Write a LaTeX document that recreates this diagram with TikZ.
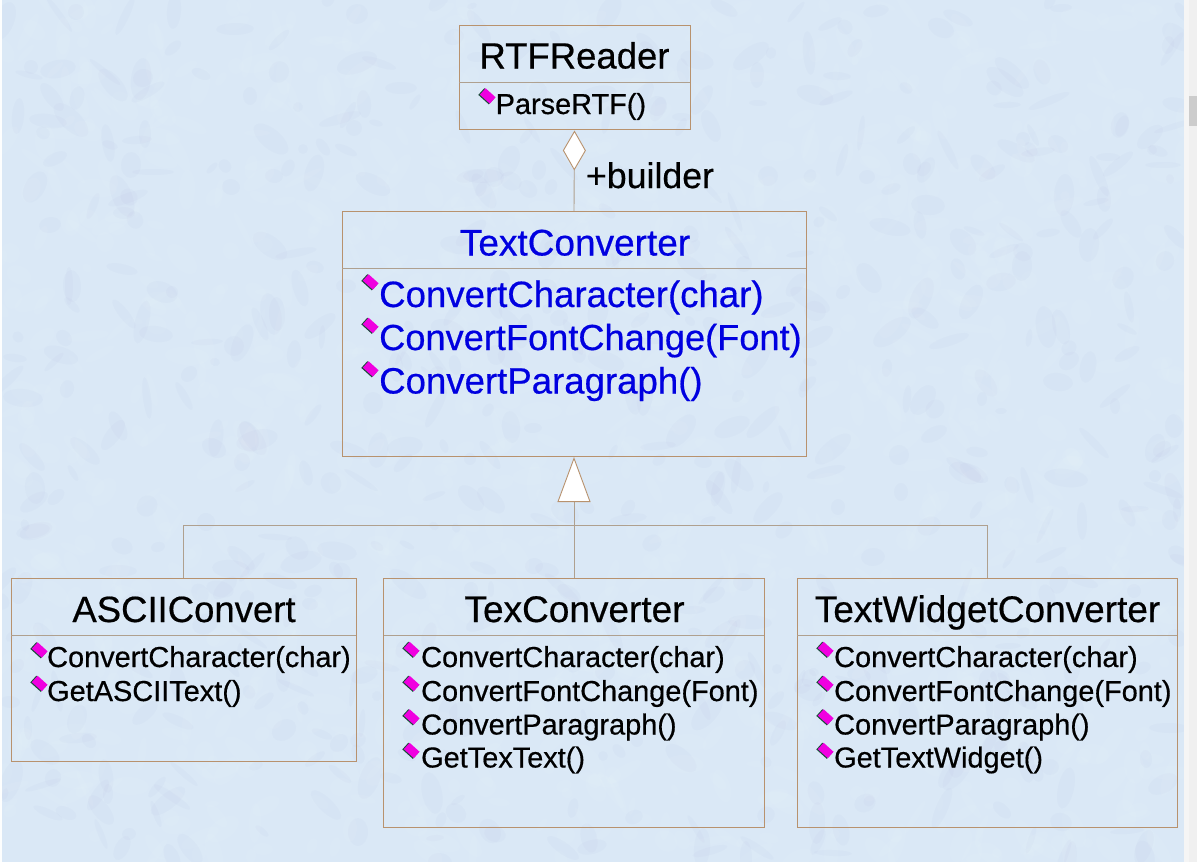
\documentclass[tikz,border=0pt]{standalone}
\usepackage{fontspec}
\setmainfont{Liberation Sans}[FakeBold=0.5]
\usetikzlibrary{arrows.meta,positioning}
\definecolor{bgblue}{HTML}{DAE8F6}
\definecolor{umlline}{HTML}{B8926E}
\definecolor{umlgrey}{HTML}{AFA08F}
\definecolor{blueText}{HTML}{0000E0}
\definecolor{iconpink}{HTML}{F000E0}
\definecolor{iconedge}{HTML}{1A4A3A}
\tikzset{
  umlbox/.style={draw=umlline,line width=1pt,inner sep=0pt,outer sep=0pt,rectangle},
  divider/.style={draw=umlgrey,line width=0.9pt},
  link/.style={draw=umlgrey,line width=0.9pt},
  titletext/.style={inner sep=0pt,anchor=base,font=\fontsize{36.5}{40}\selectfont},
  widetitle/.style={titletext,font=\fontsize{37}{40}\selectfont},
  bigmethod/.style={inner sep=0pt,anchor=base west,text=blueText,font=\fontsize{36.6}{40}\selectfont},
  smallmethod/.style={inner sep=0pt,anchor=base west,font=\fontsize{28.9}{32}\selectfont},
  roletext/.style={inner sep=0pt,anchor=base,font=\fontsize{35.7}{40}\selectfont},
}
\newcommand{\opicon}[2]{%
  \begin{scope}[shift={(#1,#2)},rotate=-42]
    \fill[iconedge] (-7.2,-4.0) rectangle (7.0,5.0);
    \fill[iconpink] (-6.2,-4.8) rectangle (7.2,3.8);
  \end{scope}}
\begin{document}
\begin{tikzpicture}[x=1pt,y=-1pt]
\useasboundingbox (0,0) rectangle (1197,862);
% page, texture, scrollbar
\fill[white!94!bgblue] (0,0) rectangle (2,862);
\fill[bgblue] (2,0) rectangle (1184,862);
\pgfmathsetseed{4217}
\begin{scope}
\clip (2,0) rectangle (1184,862);
\foreach \i in {1,...,1800}{
  \pgfmathsetmacro{\px}{random(0,1184)}
  \pgfmathsetmacro{\py}{random(0,862)}
  \pgfmathsetmacro{\pr}{random(5,22)}
  \pgfmathsetmacro{\pq}{random(3,10)}
  \pgfmathsetmacro{\pa}{random(0,180)}
  \pgfmathsetmacro{\pc}{random(0,2)}
  \ifnum\pc=0\relax
    \fill[blue!30!gray,opacity=0.022,rotate around={\pa:(\px,\py)}] (\px,\py) ellipse [x radius=\pr,y radius=\pq];
  \else
    \fill[white,opacity=0.05,rotate around={\pa:(\px,\py)}] (\px,\py) ellipse [x radius=\pr,y radius=\pq];
  \fi
}
\end{scope}
\fill[white!96!black] (1184,0) rectangle (1189,862);
\fill[white!94!black] (1189,0) rectangle (1197,862);
\fill[white!80!black] (1189,96) rectangle (1197,126);
% classes
\node[umlbox,minimum width=231pt,minimum height=104pt] (reader) at (574.5,77) {};
\node[umlbox,minimum width=464pt,minimum height=245pt] (conv) at (574,333.5) {};
\node[umlbox,minimum width=345pt,minimum height=183pt] (ascii) at (183.5,669.5) {};
\node[umlbox,minimum width=380.5pt,minimum height=249pt] (tex) at (574,702.5) {};
\node[umlbox,minimum width=380pt,minimum height=249pt] (widget) at (987,702.5) {};
% dividers
\draw[divider] (459,82) -- (690,82);
\draw[divider] (342,268) -- (806,268);
\draw[divider] (11,635) -- (356,635);
\draw[divider] (383.5,635) -- (764,635);
\draw[divider] (797,635) -- (1177,635);
% titles
\node[titletext] (readerT) at (574.5,68.5) {RTFReader};
\node[widetitle,text=blueText] (convT) at (575,255.5) {TextConverter};
\node[titletext] (asciiT) at (184,622) {ASCIIConvert};
\node[widetitle] (texT) at (574.5,622) {TexConverter};
\node[widetitle] (widgetT) at (987.5,622) {TextWidgetConverter};
% methods
\opicon{487}{96}
\node[smallmethod] (m1) at (495.5,114) {ParseRTF()};
\opicon{370}{282}\node[bigmethod] (c1) at (379,307) {ConvertCharacter(char)};
\opicon{370}{325.5}\node[bigmethod,font=\fontsize{36.2}{40}\selectfont] (c2) at (379,350) {ConvertFontChange(Font)};
\opicon{370}{369}\node[bigmethod] (c3) at (379,393.5) {ConvertParagraph()};
\opicon{39}{650}\node[smallmethod] (a1) at (47,667) {ConvertCharacter(char)};
\opicon{39}{683.5}\node[smallmethod] (a2) at (47,701) {GetASCIIText()};
\opicon{411}{649.5}\node[smallmethod] (t1) at (421,667) {ConvertCharacter(char)};
\opicon{411}{683.5}\node[smallmethod] (t2) at (421,701) {ConvertFontChange(Font)};
\opicon{411}{717}\node[smallmethod] (t3) at (421,734.5) {ConvertParagraph()};
\opicon{411}{750.5}\node[smallmethod] (t4) at (421,767.5) {GetTexText()};
\opicon{825}{649.5}\node[smallmethod] (w1) at (834,667) {ConvertCharacter(char)};
\opicon{825}{683.5}\node[smallmethod] (w2) at (834,701) {ConvertFontChange(Font)};
\opicon{825}{717}\node[smallmethod] (w3) at (834,734.5) {ConvertParagraph()};
\opicon{825}{750.5}\node[smallmethod] (w4) at (834,767.5) {GetTextWidget()};
% connectors
\node[roletext] (role) at (650,188) {+builder};
\coordinate (hub) at (574,525);
\draw[link,{Diamond[color=umlline,fill=white,length=40pt,width=23pt,line width=0.9pt]}-] (reader.south) ++(0,1.5) -- (conv.north);
\draw[link] (ascii.north) |- (hub);
\draw[link] (widget.north) |- (hub);
\draw[link] (tex.north) -- (hub);
\draw[link,shorten >=1pt,-{Triangle[color=umlline,fill=white,length=45pt,width=33pt,line width=0.9pt]}] (hub) -- (conv.south);
\end{tikzpicture}
\end{document}
